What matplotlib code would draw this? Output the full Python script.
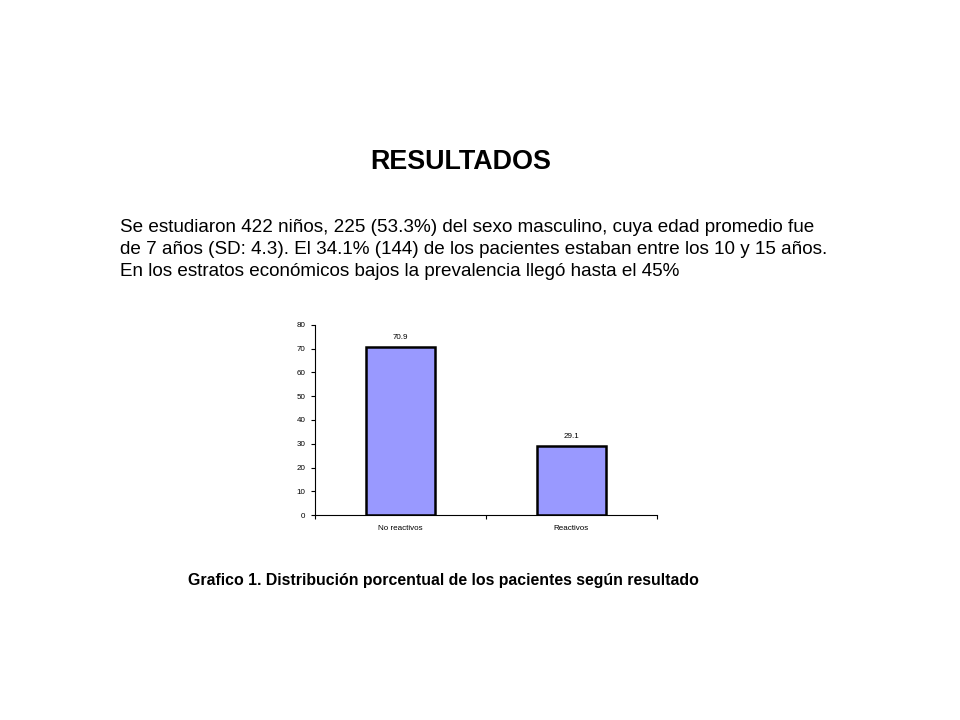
import matplotlib
matplotlib.use("Agg")
import matplotlib.pyplot as plt
import numpy as np

plt.rcParams['font.family'] = ['Liberation Sans', 'DejaVu Sans']

# data
categorias = ["No reactivos", "Reactivos"]
porcentajes = [70.9, 29.1]
yticks = [0, 10, 20, 30, 40, 50, 60, 70, 80]

titulo = "RESULTADOS"
parrafo = ["Se estudiaron 422 niños, 225 (53.3%) del sexo masculino, cuya edad promedio fue",
           "de 7 años (SD: 4.3). El 34.1% (144) de los pacientes estaban entre los 10 y 15 años.",
           "En los estratos económicos bajos la prevalencia llegó hasta el 45%"]
leyenda = "Grafico 1. Distribución porcentual de los pacientes según resultado"

fig = plt.figure(figsize=(9.6, 7.2), dpi=100)

fig.text(461 / 960, 1 - 162 / 720, titulo, ha="center", va="center",
         fontsize=19.4, fontweight="bold")
for i, linea in enumerate(parrafo):
    fig.text(120 / 960, 1 - (227 + 22.5 * i) / 720, linea, ha="left", va="center",
             fontsize=13.6)
fig.text(188 / 960, 1 - 580 / 720, leyenda, ha="left", va="center",
         fontsize=11.45, fontweight="bold")

ax = fig.add_axes([315 / 960, 1 - 515 / 720, 342 / 960, 190 / 720])
x = np.arange(len(categorias))
barras = ax.bar(x, porcentajes, width=0.4, color="#9999FF", edgecolor="black", linewidth=1.8)
for b, v in zip(barras, porcentajes):
    ax.text(b.get_x() + b.get_width() / 2, v + 2.5, f"{v:.1f}", ha="center", va="bottom",
            fontsize=5.8)

ax.set_xlim(-0.5, len(categorias) - 0.5)
ax.set_ylim(0, 80)
ax.set_yticks(yticks)
ax.set_yticklabels([str(t) for t in yticks], fontsize=5.8)
ax.set_xticks(x)
ax.set_xticklabels(categorias, fontsize=5.8)
ax.tick_params(axis="x", length=0, pad=7)
ax.set_xticks(np.arange(-0.5, len(categorias)), minor=True)
ax.tick_params(axis="x", which="minor", length=3, width=0.8)
ax.tick_params(axis="y", length=3, width=0.8, pad=4)
ax.spines["top"].set_visible(False)
ax.spines["right"].set_visible(False)
ax.spines["left"].set_linewidth(0.8)
ax.spines["bottom"].set_linewidth(0.8)

fig.savefig("out.png", dpi=100)
